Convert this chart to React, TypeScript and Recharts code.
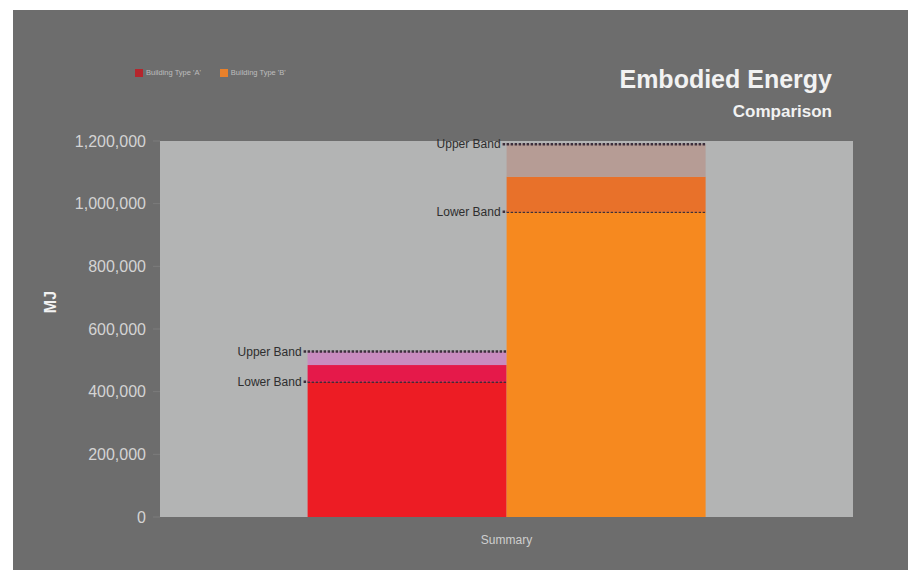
import { BarChart, Bar, XAxis, YAxis, CartesianGrid } from 'recharts';

const categories = ['Summary'];
const seriesNames = ["Building Type 'A'", "Building Type 'B'"];
const lowerBand = [432000, 974000];
const values = [485000, 1086000];
const upperBand = [528000, 1190000];
const yTicks = [0, 200000, 400000, 600000, 800000, 1000000, 1200000];

const lowerColors = ['#ed1c24', '#f6891f'];
const midColors = ['#e5194a', '#e8712a'];
const upperColors = ['#c98bbf', '#b69c95'];
const legendColors = ['#b5262d', '#e8802a'];

const data = categories.map((name) => ({
  name,
  aLower: lowerBand[0],
  aMid: values[0] - lowerBand[0],
  aUpper: upperBand[0] - values[0],
  bLower: lowerBand[1],
  bMid: values[1] - lowerBand[1],
  bUpper: upperBand[1] - values[1],
}));

// segment rect, plus the dotted band line and its label on top when asked
const BandSegment = (label?: string) => (props: any) => {
  const { x, y, width, height, fill } = props;
  return (
    <g>
      <rect x={x} y={y} width={width} height={height} fill={fill} />
      {label && (
        <>
          <line
            x1={x - 4}
            x2={x + width}
            y1={y}
            y2={y}
            stroke="#3d2f3c"
            strokeWidth={2.5}
            strokeDasharray="2.5 1.5"
          />
          <text
            x={x - 6}
            y={y + 1}
            textAnchor="end"
            dominantBaseline="middle"
            fontSize={12}
            fill="#2e2e2e"
          >
            {label}
          </text>
        </>
      )}
    </g>
  );
};

const App = () => {
  return (
    <div
      style={{
        position: 'absolute',
        left: 0,
        top: 0,
        width: 922,
        height: 570,
        background: '#fff',
        fontFamily: '"Liberation Sans", Arial, sans-serif',
      }}
    >
      <div
        style={{
          position: 'absolute',
          left: 13,
          top: 10,
          width: 895,
          height: 560,
          background: '#6d6d6d',
        }}
      >
        <BarChart
          width={895}
          height={560}
          data={data}
          margin={{ top: 131, right: 55, left: 0, bottom: 13 }}
          barGap={0}
          barCategoryGap="21.3%"
        >
          <CartesianGrid horizontal={false} vertical={false} fill="#b3b4b4" />
          <XAxis
            dataKey="name"
            height={40}
            axisLine={false}
            tickLine={false}
            tickSize={0}
            tickMargin={18}
            tick={{ fontSize: 12, fill: '#cfcfcf' }}
          />
          <YAxis
            width={147}
            domain={[0, 1200000]}
            ticks={yTicks}
            axisLine={false}
            tickSize={7}
            tickMargin={7}
            tickLine={{ stroke: '#7c7c7c' }}
            tick={{ fontSize: 16, fill: '#d4d4d4' }}
            tickFormatter={(v: number) => v.toLocaleString('en-US')}
          />
          <Bar dataKey="aLower" stackId="a" fill={lowerColors[0]} shape={BandSegment('Lower Band')} isAnimationActive={false} />
          <Bar dataKey="aMid" stackId="a" fill={midColors[0]} shape={BandSegment()} isAnimationActive={false} />
          <Bar dataKey="aUpper" stackId="a" fill={upperColors[0]} shape={BandSegment('Upper Band')} isAnimationActive={false} />
          <Bar dataKey="bLower" stackId="b" fill={lowerColors[1]} shape={BandSegment('Lower Band')} isAnimationActive={false} />
          <Bar dataKey="bMid" stackId="b" fill={midColors[1]} shape={BandSegment()} isAnimationActive={false} />
          <Bar dataKey="bUpper" stackId="b" fill={upperColors[1]} shape={BandSegment('Upper Band')} isAnimationActive={false} />
        </BarChart>

        {/* legend */}
        <div style={{ position: 'absolute', left: 122, top: 58, display: 'flex', alignItems: 'center', fontSize: 7.5, color: '#bdbdbd' }}>
          {seriesNames.map((s, i) => (
            <div key={s} style={{ display: 'flex', alignItems: 'center', marginRight: 19 }}>
              <div style={{ width: 8, height: 8, background: legendColors[i], marginRight: 3 }} />
              <span>{s}</span>
            </div>
          ))}
        </div>

        {/* title */}
        <div style={{ position: 'absolute', right: 76, top: 57, fontSize: 25, lineHeight: '25px', fontWeight: 'bold', color: '#f2f2f2', whiteSpace: 'nowrap' }}>
          Embodied Energy
        </div>
        <div style={{ position: 'absolute', right: 76, top: 93, fontSize: 17, lineHeight: '17px', fontWeight: 'bold', color: '#f2f2f2', whiteSpace: 'nowrap' }}>
          Comparison
        </div>

        {/* y axis title */}
        <div
          style={{
            position: 'absolute',
            left: 18,
            top: 282,
            width: 40,
            height: 20,
            lineHeight: '20px',
            textAlign: 'center',
            fontSize: 16,
            fontWeight: 'bold',
            color: '#f2f2f2',
            transform: 'rotate(-90deg)',
          }}
        >
          MJ
        </div>
      </div>
    </div>
  );
};

export default App;
